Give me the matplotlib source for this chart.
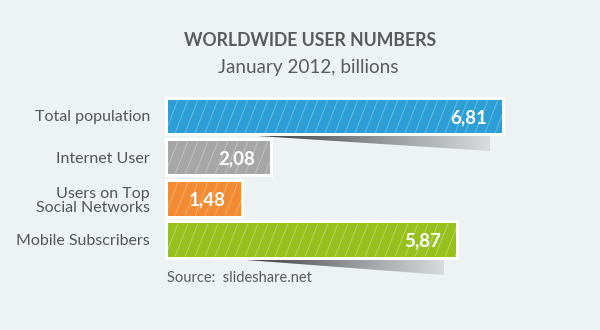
import matplotlib
matplotlib.use("Agg")
import matplotlib.pyplot as plt
import numpy as np
from matplotlib.patches import Polygon
from matplotlib.colors import LinearSegmentedColormap

categories = ["Total population", "Internet User", "Users on Top\nSocial Networks", "Mobile Subscribers"]
values = [6.81, 2.08, 1.48, 5.87]
value_labels = ["6,81", "2,08", "1,48", "5,87"]
colors = ["#2B9ED6", "#A6A6A6", "#F28B31", "#97C21D"]
shadow_bars = [0, 3]

title = "WORLDWIDE USER NUMBERS"
subtitle = "January 2012, billions"
source = "Source:  slideshare.net"

W, H = 600, 330
fig = plt.figure(figsize=(6, 3.3), dpi=100)
fig.patch.set_facecolor("#EDF2F5")
ax = fig.add_axes([0, 0, 1, 1])
ax.set_facecolor("#EDF2F5")
ax.axis("off")

PXX = 49.0      # px per unit along x
X0 = 168.0      # px where 0 lies
PXY = 41.2      # px per category step
Y0 = 116.5      # px centre of first bar
ax.set_xlim(-X0 / PXX, (W - X0) / PXX)
ax.set_ylim((H - Y0) / PXY, -Y0 / PXY)

FONT = ["Lato", "DejaVu Sans"]
ypos = np.arange(len(values))
bh = 33.5 / PXY
bord = 3.0

# shadows
cm = LinearSegmentedColormap.from_list("sh", ["#3a3a3a", "#8f9294", "#d9dcde"])
for i in shadow_bars:
    v = values[i]
    yb = ypos[i] + bh / 2 + bord / PXY
    xs = v * 0.27
    xe = v - 12 / PXX
    poly = Polygon([[xs, yb], [xe, yb], [xe, yb + 15 / PXY]], closed=True,
                   facecolor="none", edgecolor="none")
    ax.add_patch(poly)
    grad = np.linspace(0, 1, 256).reshape(1, -1)
    im = ax.imshow(grad, cmap=cm, extent=[xs, xe, yb + 15 / PXY, yb], aspect="auto",
                   zorder=1, interpolation="bilinear")
    im.set_clip_path(poly)

# white border bars
ax.barh(ypos, [v + 2 * bord / PXX for v in values], left=-bord / PXX,
        height=bh + 2 * bord / PXY, color="white", zorder=2)
bars = ax.barh(ypos, values, height=bh, color=colors, zorder=3)
ax.set_xlim(-X0 / PXX, (W - X0) / PXX)
ax.set_ylim((H - Y0) / PXY, -Y0 / PXY)

# diagonal stripes
spacing = 10.0 / PXX
slant = 13.0 / PXX
for b, v in zip(bars, values):
    y0 = b.get_y()
    y1 = y0 + b.get_height()
    x = -slant
    while x < v:
        ln, = ax.plot([x, x + slant], [y1, y0], color="white", alpha=0.33,
                      lw=0.65, zorder=4, solid_capstyle="butt")
        ln.set_clip_path(b)
        x += spacing

# value labels
for i, (v, lab) in enumerate(zip(values, value_labels)):
    ax.text(v - 15 / PXX, ypos[i] + 0.02, lab, ha="right", va="center",
            color="white", fontsize=13.5, fontweight="bold", family=FONT, zorder=5)

# category labels
for i, c in enumerate(categories):
    ax.text(-18 / PXX, ypos[i] + (0.02 if "\n" not in c else 0.06), c, ha="right",
            va="center", color="#555555", fontsize=11.5, family=FONT,
            linespacing=1.0, zorder=5)

fig.text(310 / W, 1 - 41 / H, title, ha="center", va="center", color="#5a5a5a",
         fontsize=12.7, fontweight="bold", family=FONT)
fig.text(308 / W, 1 - 68 / H, subtitle, ha="center", va="center", color="#5a5a5a",
         fontsize=13.6, family=FONT)
ax.text(-1 / PXX, (278 - Y0) / PXY, source, ha="left", va="center",
        color="#5a5a5a", fontsize=10.5, family=FONT)

fig.savefig("out.png", dpi=100, facecolor=fig.get_facecolor())
